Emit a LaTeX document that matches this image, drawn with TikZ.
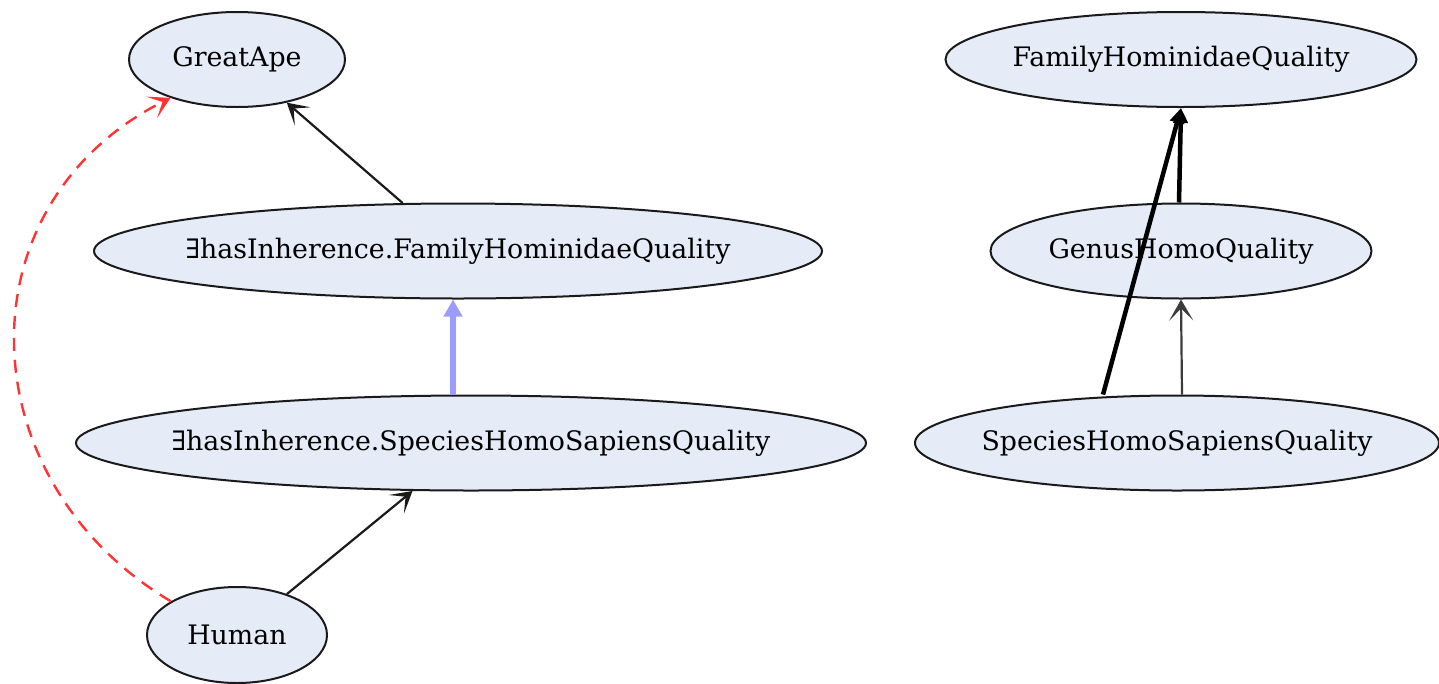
\documentclass[tikz,border=0pt]{standalone}
\usepackage{fontspec}
\setmainfont{DejaVu Serif}
\usepackage{xcolor}
\definecolor{clsfill}{HTML}{E5ECF7}
\definecolor{clsline}{HTML}{1A1A1A}
\definecolor{eqblue}{HTML}{9C9CFF}
\definecolor{isared}{HTML}{FF3333}
\usepackage{tikz}
\usetikzlibrary{arrows.meta,positioning,shapes.geometric,calc}

\tikzset{
  cls/.style={ellipse,draw=clsline,fill=clsfill,line width=2pt,inner xsep=-80pt,inner ysep=0pt,
    minimum height=95pt,text=black,font=\fontsize{26.8}{32}\selectfont},
  subof/.style={draw=clsline,line width=2.2pt,-{Stealth[length=21pt,width=24pt,inset=12pt]}},
  equiv/.style={draw=eqblue,line width=6pt,-{Triangle[length=17pt,width=18pt]}},
  inferred/.style={draw=black,line width=4.5pt,-{Triangle[length=15pt,width=14pt]}},
  isa/.style={draw=isared,line width=2.4pt,dash pattern=on 13pt off 9pt,
    -{Stealth[length=21pt,width=24pt,inset=12pt]}}
}

\begin{document}
\begin{tikzpicture}[x=1pt,y=-1pt]
\useasboundingbox (0,0) rectangle (1439,683);
\node[cls,minimum width=216pt] (ga) at (237,59.5) {GreatApe};
\node[cls,minimum width=728pt] (efam) at (458,251) {∃hasInherence.FamilyHominidaeQuality};
\node[cls,minimum width=790pt] (espec) at (471,443) {∃hasInherence.SpeciesHomoSapiensQuality};
\node[cls,minimum width=180pt,minimum height=96pt] (hu) at (237,635) {Human};
\node[cls,minimum width=471pt] (famq) at (1181,59.5) {FamilyHominidaeQuality};
\node[cls,minimum width=381pt] (genq) at (1181,251) {GenusHomoQuality};
\node[cls,minimum width=524pt] (hsq) at (1177,443) {SpeciesHomoSapiensQuality};

\draw[subof] (efam) -- (ga);
\draw[subof] (hu) -- (espec);
\draw[equiv] ([xshift=-18pt]espec.north) -- ([xshift=-18pt]espec.north |- efam.south);
\draw[isa] (hu.153) .. controls (-32,481) and (-42,205) .. (ga.210);
\draw[subof,draw=clsline!85] ([xshift=5pt]hsq.north) -- (genq.south);
\draw[inferred] ([xshift=-2pt]genq.north) -- (famq.south);
\draw[inferred] ([xshift=-74pt]hsq.north) -- (famq.south);
\end{tikzpicture}
\end{document}
